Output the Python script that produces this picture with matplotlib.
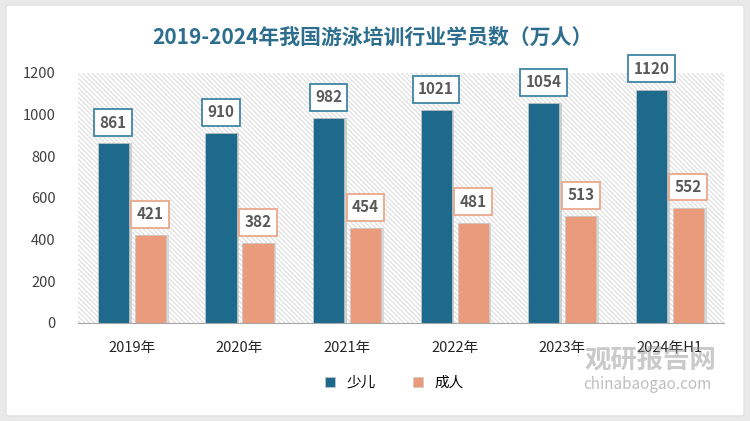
import matplotlib
matplotlib.use('Agg')
import matplotlib.pyplot as plt
from matplotlib.patches import Rectangle, FancyBboxPatch
import numpy as np

plt.rcParams['font.family'] = ['Noto Sans CJK SC', 'DejaVu Sans']
plt.rcParams['hatch.linewidth'] = 0.9
plt.rcParams['hatch.color'] = '#e0e0e0'

years = ['2019年', '2020年', '2021年', '2022年', '2023年', '2024年H1']
kids = [861, 910, 982, 1021, 1054, 1120]
adults = [421, 382, 454, 481, 513, 552]

blue = '#1d6a8c'
orange = '#e99b7b'

fig = plt.figure(figsize=(7.5, 4.21), dpi=100)
fig.patch.set_facecolor('#e9e9e9')
# white card
card = FancyBboxPatch((0.008, 0.012), 0.984, 0.976, boxstyle='round,pad=0,rounding_size=0.005',
                      transform=fig.transFigure, facecolor='white', edgecolor='#dddddd', lw=0.8,
                      zorder=-5)
fig.patches.append(card)

ax = fig.add_axes([0.104, 0.233, 0.861, 0.594])
ax.set_facecolor('none')
ax.set_xlim(-0.5, 5.5)
ax.set_ylim(0, 1200)

# hatched background
bg = Rectangle((-0.5, 0), 6, 1200, facecolor='white', edgecolor='#e0e0e0', hatch='\\' * 7, lw=0, zorder=0)
ax.add_patch(bg)

x = np.arange(len(years))
w = 0.29
off = 0.172
# soft shadows
ax.bar(x - off + 0.025, kids, w, color='#cfcfcf', zorder=2, lw=0)
ax.bar(x + off + 0.025, adults, w, color='#d8d8d8', zorder=2, lw=0)
b1 = ax.bar(x - off, kids, w, color=blue, zorder=3, edgecolor='#c9c9c9', lw=0.5)
b2 = ax.bar(x + off, adults, w, color=orange, zorder=3, edgecolor='#c9c9c9', lw=0.5)

for xi, v in zip(x - off, kids):
    ax.annotate(str(v), (xi, v), xytext=(0, 15), textcoords='offset points', ha='center', va='center',
                fontsize=11, fontweight='bold', color='#595959', zorder=5,
                bbox=dict(boxstyle='square,pad=0.35', fc='white', ec='#3f86a6', lw=1.3))
for xi, v in zip(x + off, adults):
    ax.annotate(str(v), (xi, v), xytext=(0, 15), textcoords='offset points', ha='center', va='center',
                fontsize=11, fontweight='bold', color='#595959', zorder=5,
                bbox=dict(boxstyle='square,pad=0.35', fc='white', ec='#eba88b', lw=1.3))

ax.set_xticks(x)
ax.set_xticklabels(years, fontsize=10.5, color='#262626')
ax.set_yticks(range(0, 1201, 200))
ax.tick_params(axis='y', labelsize=10.5, colors='#404040', length=0, pad=16)
ax.tick_params(axis='x', length=0, pad=13)
for s in ['top', 'right', 'left']:
    ax.spines[s].set_visible(False)
ax.spines['bottom'].set_color('#a6a6a6')
ax.spines['bottom'].set_zorder(4)

fig.text(0.497, 0.912, '2019-2024年我国游泳培训行业学员数（万人）', ha='center', va='center',
         fontsize=15, fontweight='bold', color='#2d6e8e')

leg = ax.legend([b1, b2], ['少儿', '成人'], loc='center', bbox_to_anchor=(0.49, -0.24), ncol=2,
                frameon=False, fontsize=10.5, handlelength=0.7, handleheight=0.7, columnspacing=2.5)

# watermark
fig.text(0.867, 0.142, '观研报告网', ha='center', va='center', fontsize=19, fontweight='bold',
         color='#8a8a8a', alpha=0.45, zorder=10)
fig.text(0.863, 0.086, 'chinabaogao.com', ha='center', va='center', fontsize=11,
         color='#8a8a8a', alpha=0.55, zorder=10)

fig.savefig('out.png', dpi=100, facecolor=fig.get_facecolor())
